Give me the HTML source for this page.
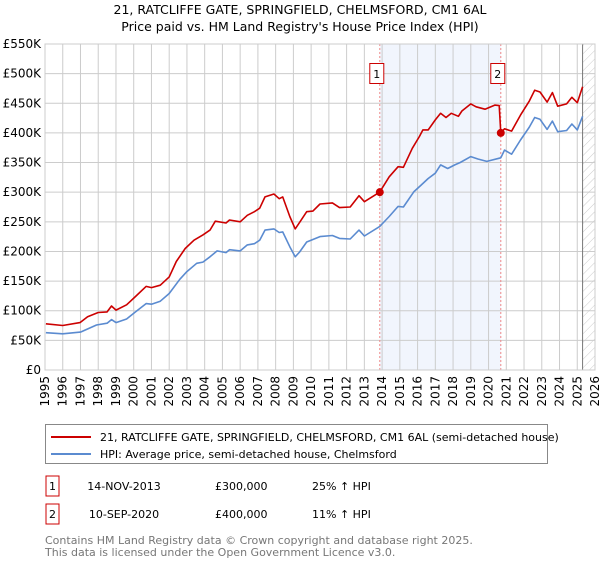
<!DOCTYPE html>
<html><head><meta charset="utf-8"><style>
body{margin:0;background:#fff;font-family:"DejaVu Sans","Liberation Sans",sans-serif;}
svg text{font-family:"DejaVu Sans","Liberation Sans",sans-serif;}
</style></head><body>
<svg id="chart" width="600" height="560" xmlns="http://www.w3.org/2000/svg">
<defs><pattern id="hatch" width="6" height="6" patternUnits="userSpaceOnUse" patternTransform="rotate(45)"><line x1="0" y1="0" x2="0" y2="6" stroke="#ccc" stroke-width="1"/></pattern></defs>
<text x="300" y="14" text-anchor="middle" font-size="12.5">21, RATCLIFFE GATE, SPRINGFIELD, CHELMSFORD, CM1 6AL</text>
<text x="300" y="31" text-anchor="middle" font-size="12.5">Price paid vs. HM Land Registry's House Price Index (HPI)</text>
<g id="plot"></g>
<g id="legend">
<rect x="45.5" y="424.5" width="502" height="39" fill="#fff" stroke="#888"/>
<line x1="51" y1="437" x2="91" y2="437" stroke="#cc0000" stroke-width="2"/>
<text x="100" y="441" font-size="11">21, RATCLIFFE GATE, SPRINGFIELD, CHELMSFORD, CM1 6AL (semi-detached house)</text>
<line x1="51" y1="454" x2="91" y2="454" stroke="#5b8bd0" stroke-width="2"/>
<text x="100" y="458" font-size="11">HPI: Average price, semi-detached house, Chelmsford</text>
</g>
<g>
<rect x="46" y="476" width="13" height="20" fill="#fff" stroke="#cc0000"/><text x="52.5" y="490" text-anchor="middle" font-size="11">1</text>
<text x="124" y="490" text-anchor="middle" font-size="11">14-NOV-2013</text>
<text x="215" y="490" font-size="11">£300,000</text>
<text x="312" y="490" font-size="11">25% ↑ HPI</text>
</g>
<g>
<rect x="46" y="504" width="13" height="20" fill="#fff" stroke="#cc0000"/><text x="52.5" y="518" text-anchor="middle" font-size="11">2</text>
<text x="124" y="518" text-anchor="middle" font-size="11">10-SEP-2020</text>
<text x="215" y="518" font-size="11">£400,000</text>
<text x="312" y="518" font-size="11">11% ↑ HPI</text>
</g>
<text x="45" y="544" font-size="11" fill="#777">Contains HM Land Registry data © Crown copyright and database right 2025.</text>
<text x="45" y="556" font-size="11" fill="#777">This data is licensed under the Open Government Licence v3.0.</text>
</svg>
<script>
const yTicks=[0,50,100,150,200,250,300,350,400,450,500,550];
const yTickLabels=["£0","£50K","£100K","£150K","£200K","£250K","£300K","£350K","£400K","£450K","£500K","£550K"];
const xYears=[1995,1996,1997,1998,1999,2000,2001,2002,2003,2004,2005,2006,2007,2008,2009,2010,2011,2012,2013,2014,2015,2016,2017,2018,2019,2020,2021,2022,2023,2024,2025,2026];
const priceDates=[1995.05,1996.0,1996.97,1997.4,1998.0,1998.5,1998.75,1999.0,1999.6,2000.1,2000.7,2001.0,2001.5,2002.0,2002.4,2002.9,2003.4,2003.9,2004.3,2004.6,2005.2,2005.4,2006.0,2006.4,2006.8,2007.1,2007.4,2007.9,2008.2,2008.4,2008.8,2009.1,2009.37,2009.75,2010.1,2010.5,2011.2,2011.6,2012.2,2012.7,2013.0,2013.86,2014.4,2014.9,2015.2,2015.7,2016.1,2016.3,2016.6,2017.0,2017.3,2017.6,2017.9,2018.3,2018.5,2019.0,2019.3,2019.8,2020.35,2020.6,2020.69,2020.9,2021.3,2021.8,2022.3,2022.6,2022.9,2023.3,2023.6,2023.9,2024.4,2024.7,2025.0,2025.3];
const priceValues=[78,75,80,90,97,98,108,101,110,124,141,139,143,157,183,205,219,228,236,251,248,253,250,261,267,273,292,297,289,292,259,238,250,267,268,280,282,274,275,294,284,300,326,343,342,374,394,405,405,422,433,426,433,428,437,449,444,440,447,446,400,407,403,430,454,472,469,452,468,445,449,460,451,478];
const hpiDates=[1995.05,1996.0,1997.0,1997.9,1998.5,1998.75,1999.0,1999.6,2000.1,2000.7,2001.0,2001.5,2002.0,2002.6,2003.0,2003.55,2003.9,2004.3,2004.7,2005.2,2005.4,2006.0,2006.4,2006.8,2007.1,2007.4,2007.9,2008.2,2008.4,2008.8,2009.1,2009.35,2009.75,2010.5,2011.2,2011.6,2012.2,2012.7,2013.0,2013.86,2014.4,2014.9,2015.2,2015.8,2016.2,2016.6,2017.0,2017.3,2017.7,2018.1,2018.4,2019.0,2019.4,2019.9,2020.69,2020.9,2021.3,2021.8,2022.3,2022.6,2022.9,2023.3,2023.6,2023.9,2024.4,2024.7,2025.0,2025.3];
const hpiValues=[63,61,64,76,79,85,80,86,98,112,111,116,129,153,166,180,182,191,201,198,203,201,211,213,219,236,238,232,233,208,191,199,216,225,227,222,221,236,226,242,259,276,275,301,312,323,332,346,340,346,350,360,356,352,358,371,364,388,410,426,423,406,420,402,404,415,405,428];
const saleDates=[2013.87,2020.69];
const saleValues=[300,400];
const saleLabels=["1","2"];
const hatchStart=2025.3;

const NS="http://www.w3.org/2000/svg";
const L=45,R=595,T=44,B=370,Y0=1995,Y1=2026,VMAX=550;
const xs=y=>L+(y-Y0)/(Y1-Y0)*(R-L);
const ys=v=>B-v/VMAX*(B-T);
const g=document.getElementById('plot');
function mk(tag,attrs,parent){const e=document.createElementNS(NS,tag);for(const k in attrs)e.setAttribute(k,attrs[k]);(parent||g).appendChild(e);return e;}
const shade=mk('rect',{x:xs(saleDates[0]),y:T,width:xs(saleDates[1])-xs(saleDates[0]),height:B-T,fill:'#f1f5fd'});


const hat=mk('rect',{x:xs(hatchStart),y:T,width:R-xs(hatchStart),height:B-T,fill:'url(#hatch)'});


yTicks.forEach((v,i)=>{
  const ln=mk('line',{x1:L,x2:R,y1:ys(v),y2:ys(v),stroke:'#ccc','stroke-width':1});
  
  
  const t=mk('text',{x:L-4,y:ys(v)+4,'text-anchor':'end','font-size':12});
  t.textContent=yTickLabels[i];
  
  
});
xYears.forEach(yr=>{
  const ln=mk('line',{x1:xs(yr),x2:xs(yr),y1:T,y2:B,stroke:'#ccc','stroke-width':1});
  
  
  const t=mk('text',{x:0,y:0,'text-anchor':'end','font-size':12,transform:`translate(${xs(yr)+4},376) rotate(-90)`});
  t.textContent=yr;
  
  
});
const hl=mk('line',{x1:xs(hatchStart),x2:xs(hatchStart),y1:T,y2:B,stroke:'#777','stroke-width':1});


saleDates.forEach((d,i)=>{
  const vl=mk('line',{x1:xs(d),x2:xs(d),y1:T,y2:B,stroke:'#e88','stroke-width':1,'stroke-dasharray':'2,2'});
  
  
  const bx=mk('rect',{x:xs(d)-10,y:T+19.5,width:14,height:20,fill:'#fff',stroke:'#cc0000'});
  
  
  const t=mk('text',{x:xs(d)-3,y:T+34,'text-anchor':'middle','font-size':11});
  t.textContent=saleLabels[i];
  
  
});
function line(dates,vals,color,name){
  const p=mk('polyline',{points:dates.map((d,i)=>xs(d).toFixed(1)+','+ys(vals[i]).toFixed(1)).join(' '),fill:'none',stroke:color,'stroke-width':1.6,'stroke-linejoin':'round'});
  
  
}
line(hpiDates,hpiValues,'#5b8bd0','hpi-line');
line(priceDates,priceValues,'#cc0000','price-paid-line');
saleDates.forEach((d,i)=>{
  const c=mk('circle',{cx:xs(d),cy:ys(saleValues[i]),r:4,fill:'#cc0000'});
  
  
});
const fr=mk('rect',{x:L,y:T,width:R-L,height:B-T,fill:'none',stroke:'#ccc'});


</script>
</body></html>
